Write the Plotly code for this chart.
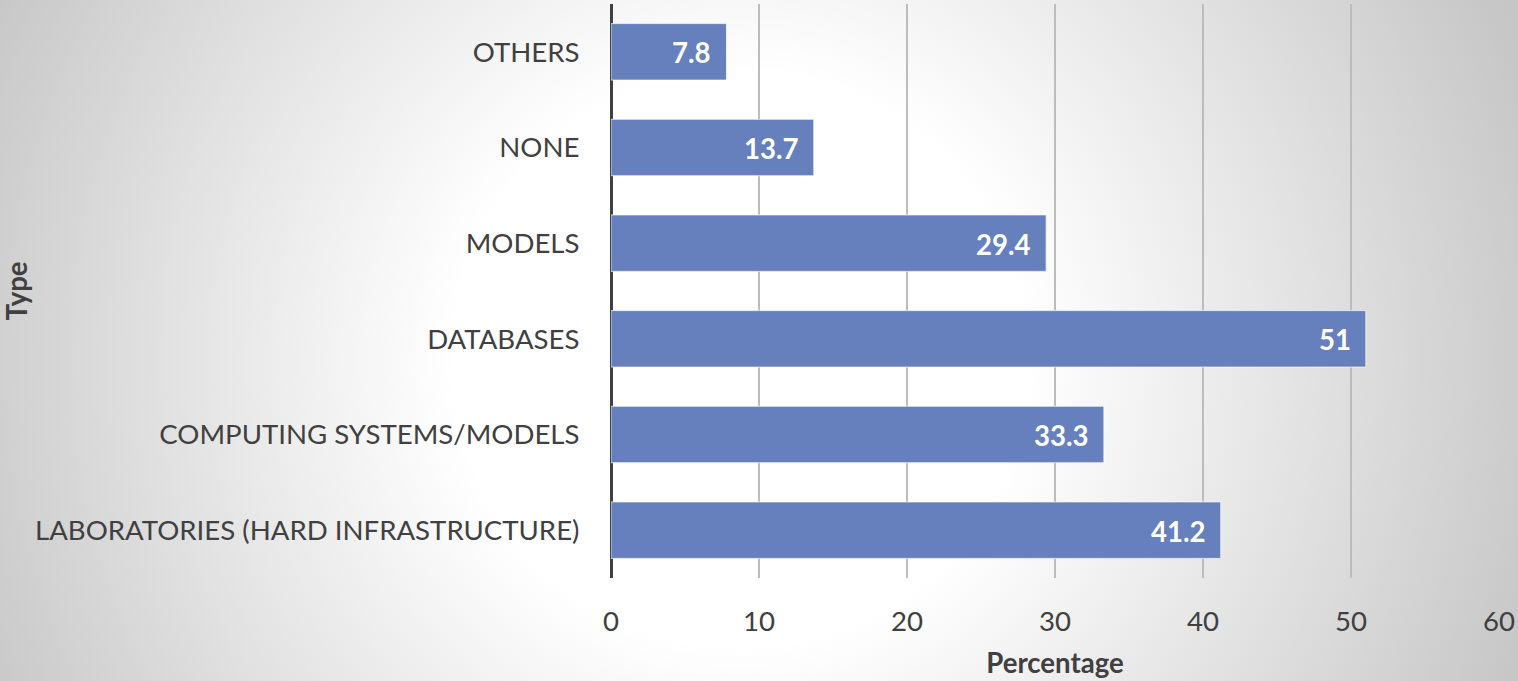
import base64
import plotly.graph_objects as go

categories = ["LABORATORIES (HARD INFRASTRUCTURE)", "COMPUTING SYSTEMS/MODELS",
              "DATABASES", "MODELS", "NONE", "OTHERS"]
values = [41.2, 33.3, 51, 29.4, 13.7, 7.8]
value_labels = ["41.2", "33.3", "51", "29.4", "13.7", "7.8"]
x_ticks = [0, 10, 20, 30, 40, 50, 60]

W, H = 1518, 681
L, R, T, B = 611, 19, 4, 103
pw, ph = W - L - R, H - T - B

FONT = "Lato"
FS = 27.6
BAR = "#6680bd"

svg = f'''<svg xmlns="http://www.w3.org/2000/svg" width="{W}" height="{H}" viewBox="0 0 {W} {H}" preserveAspectRatio="none">
<defs><radialGradient id="g" gradientUnits="userSpaceOnUse" cx="740" cy="360" r="840" fx="740" fy="360">
<stop offset="0" stop-color="#ffffff"/><stop offset="0.34" stop-color="#ffffff"/>
<stop offset="1" stop-color="#c6c6c6"/></radialGradient></defs>
<rect width="{W}" height="{H}" fill="url(#g)"/></svg>'''
src = "data:image/svg+xml;base64," + base64.b64encode(svg.encode()).decode()

fig = go.Figure()
fig.add_trace(go.Bar(
    y=categories, x=values, orientation="h", width=0.59,
    marker=dict(color=BAR, line=dict(color="rgba(255,255,255,0.7)", width=1)),
    hoverinfo="skip",
))

for c, v, t in zip(categories, values, value_labels):
    fig.add_annotation(x=v, y=c, text=f"<b>{t}</b>", showarrow=False,
                       xanchor="right", xshift=-13, yshift=-1,
                       font=dict(family=FONT, size=FS, color="white"))

fig.update_layout(
    width=W, height=H,
    margin=dict(l=L, r=R, t=T, b=B, autoexpand=False),
    paper_bgcolor="white", plot_bgcolor="rgba(0,0,0,0)",
    showlegend=False,
    font=dict(family=FONT, size=FS, color="#404040"),
    images=[dict(source=src, xref="paper", yref="paper",
                 x=-L / pw, y=1 + T / ph, sizex=W / pw, sizey=H / ph,
                 xanchor="left", yanchor="top", sizing="stretch", layer="below")],
)
fig.update_xaxes(
    range=[0, 60], tickvals=x_ticks, ticktext=[str(v) for v in x_ticks],
    showgrid=True, gridcolor="#bcbcbc", gridwidth=1.5,
    zeroline=True, zerolinecolor="#404040", zerolinewidth=3,
    ticks="outside", ticklen=19, tickcolor="rgba(0,0,0,0)",
    tickfont=dict(family=FONT, size=FS, color="#404040"),
    title=dict(text="<b>Percentage</b>", standoff=17,
               font=dict(family=FONT, size=FS, color="#404040")),
    showline=False, automargin=False, fixedrange=True,
)
fig.update_yaxes(
    categoryorder="array", categoryarray=categories,
    showgrid=False, zeroline=False, showline=False,
    ticks="outside", ticklen=25, tickcolor="rgba(0,0,0,0)",
    tickfont=dict(family=FONT, size=FS, color="#404040"),
    title=dict(text="<b>Type</b>", standoff=4,
               font=dict(family=FONT, size=FS, color="#404040")),
    automargin=False, fixedrange=True,
)

fig.write_html("out.html", config={"displayModeBar": False})
